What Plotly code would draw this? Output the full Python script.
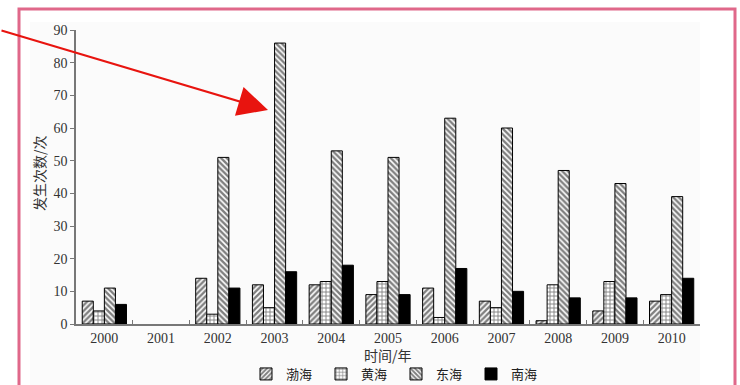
import plotly.graph_objects as go

# Occurrence counts per sea area, 2000–2010
years = ["2000", "2001", "2002", "2003", "2004", "2005", "2006", "2007", "2008", "2009", "2010"]
bohai = [7, 0, 14, 12, 12, 9, 11, 7, 1, 4, 7]
huanghai = [4, 0, 3, 5, 13, 13, 2, 5, 12, 13, 9]
donghai = [11, 0, 51, 86, 53, 51, 63, 60, 47, 43, 39]
nanhai = [6, 0, 11, 16, 18, 9, 17, 10, 8, 8, 14]

series_names = ["渤海", "黄海", "东海", "南海"]
series_values = [bohai, huanghai, donghai, nanhai]
shapes_fill = ["/", "+", "\\", ""]
fill_solidity = [0.6, 0.4, 0.6, 1.0]

serif = "Liberation Serif, Times New Roman, serif"
cjk = "Noto Sans CJK SC, sans-serif"

fig = go.Figure()
for name, vals, shp, sol in zip(series_names, series_values, shapes_fill, fill_solidity):
    # no outline on empty (zero-height) bars
    outline = dict(color="black", width=[1 if v > 0 else 0 for v in vals])
    if shp:
        marker = dict(
            color="white",
            line=outline,
            pattern=dict(shape=shp, fgcolor="black", bgcolor="white", size=4, solidity=sol),
        )
    else:
        marker = dict(color="black", line=outline)
    fig.add_trace(go.Bar(x=years, y=vals, name=name, marker=marker))

L, R, T, B = 76, 40, 30, 61
W, H = 740, 385
pw, ph = W - L - R, H - T - B


def px_x(x):
    return (x - L) / pw


def px_y(y):
    return (H - B - y) / ph


fig.update_layout(
    width=W,
    height=H,
    margin=dict(l=L, r=R, t=T, b=B, autoexpand=False),
    paper_bgcolor="white",
    plot_bgcolor="rgba(0,0,0,0)",
    barmode="group",
    bargap=0.22,
    bargroupgap=0,
    showlegend=True,
    legend=dict(
        orientation="h",
        xref="container",
        yref="container",
        x=(388 + 8) / W,
        xanchor="center",
        y=1 - 374 / H,
        yanchor="middle",
        font=dict(family=cjk, size=13, color="#222"),
        entrywidth=30,
        itemwidth=30,
        tracegroupgap=0,
        bgcolor="rgba(0,0,0,0)",
    ),
    xaxis=dict(
        type="category",
        showline=True,
        linecolor="#777",
        linewidth=1.5,
        ticks="inside",
        ticklen=4,
        tickcolor="#777",
        tickson="boundaries",
        tickfont=dict(family=serif, size=14, color="#333"),
        showgrid=False,
        automargin=False,
    ),
    yaxis=dict(
        range=[0, 90],
        dtick=10,
        showline=True,
        linecolor="#777",
        linewidth=1.5,
        ticks="outside",
        ticklen=4,
        tickcolor="#777",
        tickfont=dict(family=serif, size=14, color="#333"),
        showgrid=False,
        zeroline=False,
        automargin=False,
    ),
)

# axis titles
fig.add_annotation(
    xref="paper", yref="paper", x=0.5, y=px_y(355),
    text="时间/年", showarrow=False,
    font=dict(family=cjk, size=14, color="#333"),
    xanchor="center", yanchor="middle",
)
fig.add_annotation(
    xref="paper", yref="paper", x=px_x(39), y=px_y(173),
    text="发生次数/次", showarrow=False, textangle=-90,
    font=dict(family=cjk, size=14, color="#333"),
    xanchor="center", yanchor="middle",
)

# faint panel behind the chart
fig.add_shape(
    type="rect", xref="paper", yref="paper",
    x0=px_x(30), x1=px_x(700), y0=px_y(400), y1=px_y(22),
    fillcolor="#fbfbfb", line=dict(width=0), layer="below",
)

# pink frame (open at the bottom edge of the canvas)
fig.add_shape(
    type="rect", xref="paper", yref="paper",
    x0=px_x(19), x1=px_x(735), y0=px_y(430), y1=px_y(9),
    line=dict(color="#e0688a", width=3), fillcolor="rgba(0,0,0,0)",
)

# red arrow pointing at the 2003 peak
fig.add_annotation(
    xref="paper", yref="paper",
    x=px_x(268), y=px_y(110),
    ax=-268, ay=-80,
    showarrow=True, arrowhead=2, arrowsize=3, arrowwidth=2,
    arrowcolor="#e8140f", text="",
)

fig.write_html("out.html")
